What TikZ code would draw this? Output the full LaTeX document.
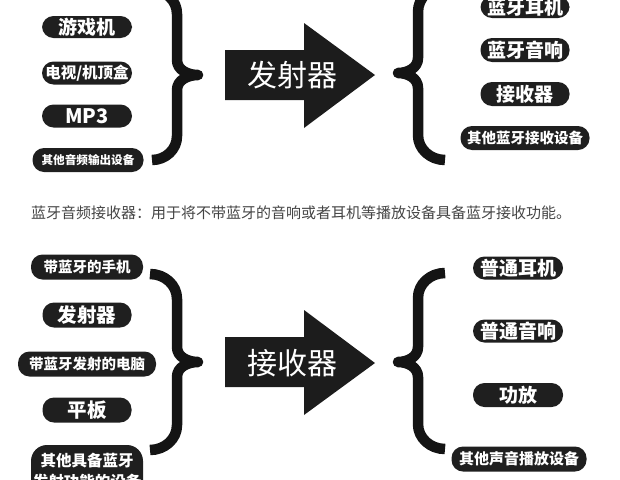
\documentclass[tikz,border=0pt]{standalone}
\usepackage{fontspec}
\setmainfont{Noto Sans CJK SC}
\usepackage{tikz}
\usetikzlibrary{positioning}
\definecolor{pillc}{HTML}{1F1F1F}
\definecolor{arrowc}{HTML}{1C1C1C}
\definecolor{bracec}{HTML}{141414}
\definecolor{notec}{HTML}{444444}

\begin{document}
\begin{tikzpicture}[x=1pt, y=1pt]
    \tikzstyle{pill} = [rectangle, fill=pillc, text=white, inner sep=0pt, minimum height=23pt, rounded corners=11.5pt, align=center]
    \tikzstyle{big} = [pill, minimum width=90pt, font=\bfseries\fontsize{19}{22}\selectfont]
    \tikzstyle{small} = [pill, font=\bfseries\fontsize{14.5}{17}\selectfont]
    \tikzstyle{arrowtext} = [text=white, font=\fontsize{30}{34}\selectfont]
    \tikzstyle{brace} = [draw=bracec, line width=10.5pt, line join=round]

    \useasboundingbox (0,0) rectangle (620,-479);
    \clip (0,0) rectangle (620,-479);

    % sources of the transmitter
    \node (game) [big, minimum height=22pt] at (87,-27) {游戏机};
    \node (tv) [big, font=\bfseries\fontsize{15.5}{18}\selectfont] at (87,-73) {电视/机顶盒};
    \node (mp3) [big, font=\bfseries\fontsize{20}{22}\selectfont] at (87,-116) {MP3};
    \node (audioout) [small, minimum width=111pt, minimum height=24pt, font=\bfseries\fontsize{11.6}{14}\selectfont] at (88,-160) {其他音频输出设备};

    \draw [brace] (152,10) to[out=0,in=90] (177,-14) -- (177,-60) to[out=-90,in=180] (198,-75)
        to[out=180,in=90] (177,-90) -- (177,-136) to[out=-90,in=0] (152,-160);

    \fill [arrowc] (225,-50) -- (304,-50) -- (304,-23) -- (375,-75) -- (304,-128) -- (304,-100) -- (225,-100) -- cycle;
    \node (txarrow) [arrowtext] at (292,-75) {发射器};

    \draw [brace] (445,14) to[out=180,in=90] (418,-12) -- (418,-58) to[out=-90,in=0] (398,-73)
        to[out=0,in=90] (418,-88) -- (418,-135) to[out=-90,in=180] (445,-160);

    % receivers of the transmitter
    \node (btphones) [big, minimum width=89pt, minimum height=22pt] at (525,-7) {蓝牙耳机};
    \node (btspeaker) [big, minimum width=89pt, minimum height=24pt] at (525,-50) {蓝牙音响};
    \node (rx) [big, minimum width=89pt, minimum height=24pt] at (525,-94) {接收器};
    \node (btother) [small, minimum width=129pt, minimum height=24pt] at (525,-138) {其他蓝牙接收设备};

    \node (note) [text=notec, font=\fontsize{15}{18}\selectfont] at (301,-213) {蓝牙音频接收器：用于将不带蓝牙的音响或者耳机等播放设备具备蓝牙接收功能。};

    % sources of the receiver
    \node (phone) [small, minimum width=112pt, minimum height=25pt] at (87,-267) {带蓝牙的手机};
    \node (tx) [big, minimum width=89pt, minimum height=25pt, font=\bfseries\fontsize{19.5}{22}\selectfont] at (87,-315) {发射器};
    \node (pc) [small, minimum width=138pt, minimum height=25pt] at (87,-364) {带蓝牙发射的电脑};
    \node (pad) [big, minimum width=89pt, minimum height=25pt, font=\bfseries\fontsize{19.5}{22}\selectfont] at (87,-410) {平板};
    \node (txother) [small, minimum width=112pt, minimum height=52pt, rounded corners=16pt, font=\bfseries\fontsize{15.5}{21}\selectfont] at (87,-471) {其他具备蓝牙\\发射功能的设备};

    \draw [brace] (150,-274) to[out=0,in=90] (177,-299) -- (177,-347) to[out=-90,in=180] (198,-362)
        to[out=180,in=90] (177,-377) -- (177,-425) to[out=-90,in=0] (150,-450);

    \fill [arrowc] (225,-337) -- (304,-337) -- (304,-310) -- (375,-363) -- (304,-415) -- (304,-387) -- (225,-387) -- cycle;
    \node (rxarrow) [arrowtext] at (292,-363) {接收器};

    \draw [brace] (445,-273) to[out=180,in=90] (418,-298) -- (418,-347) to[out=-90,in=0] (398,-362)
        to[out=0,in=90] (418,-377) -- (418,-424) to[out=-90,in=180] (445,-449);

    % players behind the receiver
    \node (phones) [big] at (518,-268) {普通耳机};
    \node (speaker) [big] at (518,-331) {普通音响};
    \node (amp) [big, minimum height=24pt] at (518,-395) {功放};
    \node (playother) [small, minimum width=135pt, minimum height=25pt, font=\bfseries\fontsize{15}{18}\selectfont] at (519,-459) {其他声音播放设备};
\end{tikzpicture}
\end{document}
